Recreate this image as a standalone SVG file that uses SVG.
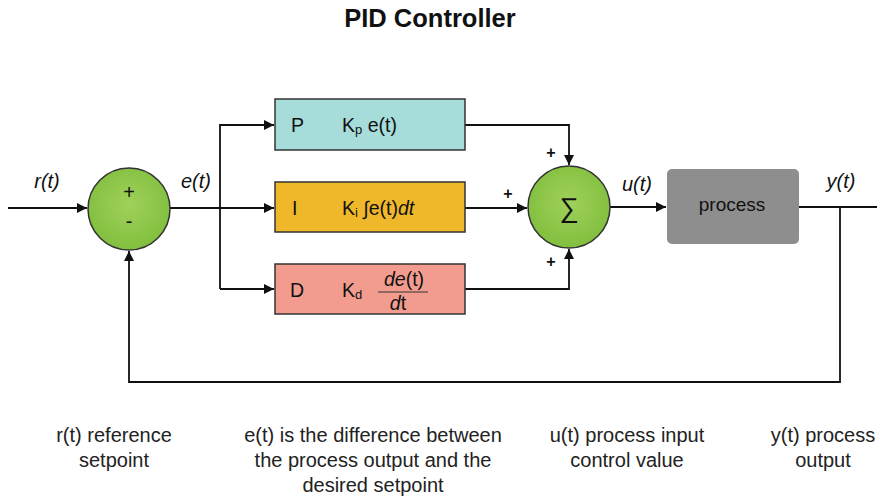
<svg xmlns="http://www.w3.org/2000/svg" width="877" height="498" viewBox="0 0 877 498">
<defs>
<marker id="arr" viewBox="0 0 10 10" refX="10" refY="5" markerWidth="10" markerHeight="10" markerUnits="userSpaceOnUse" orient="auto">
<path d="M0,0 L10,5 L0,10 z" fill="#111"/>
</marker>
<radialGradient id="g" cx="0.5" cy="0.45" r="0.6">
<stop offset="0" stop-color="#9fd15a"/>
<stop offset="1" stop-color="#7fbd3c"/>
</radialGradient>
</defs>
<style>
text{font-family:"Liberation Sans",Arial,sans-serif;fill:#111}
.lab{font-size:20px;font-style:italic}
.box{stroke:#333;stroke-width:1.5}
.bt{font-size:19.5px}
.note{font-size:20px;text-anchor:middle;fill:#222}
.c{stroke:#111;stroke-width:1.8;fill:none}
.pl{font-size:16px;font-weight:bold}
</style>
<rect width="877" height="498" fill="#fff"/>
<text x="430" y="27" text-anchor="middle" font-size="25.5" font-weight="bold">PID Controller</text>

<g id="connectors">
<path class="c" d="M8,208 H87" marker-end="url(#arr)"/>
<path class="c" d="M170,208 H274" marker-end="url(#arr)"/>
<path class="c" d="M220,289 V125 H274" marker-end="url(#arr)"/>
<path class="c" d="M220,289 H274" marker-end="url(#arr)"/>
<path class="c" d="M465,125 H569 V165" marker-end="url(#arr)"/>
<path class="c" d="M465,208 H527" marker-end="url(#arr)"/>
<path class="c" d="M465,289 H569 V249" marker-end="url(#arr)"/>
<path class="c" d="M610,207 H666" marker-end="url(#arr)"/>
<path class="c" d="M799,207 H877"/>
<path class="c" d="M840,207 V382 H129 V251" marker-end="url(#arr)"/>
</g>

<g id="labels">
<text class="lab" x="47" y="188" text-anchor="middle">r(t)</text>
<text class="lab" x="196" y="188" text-anchor="middle">e(t)</text>
<text class="lab" x="637" y="191" text-anchor="middle">u(t)</text>
<text class="lab" x="841" y="188" text-anchor="middle">y(t)</text>
<text class="pl" x="551" y="158" text-anchor="middle">+</text>
<text class="pl" x="508" y="199" text-anchor="middle">+</text>
<text class="pl" x="551" y="267" text-anchor="middle">+</text>
</g>

<g id="sum1">
<circle cx="129" cy="209" r="41" fill="url(#g)" stroke="#333" stroke-width="1.5"/>
<text x="129" y="199" text-anchor="middle" font-size="20">+</text>
<text x="129" y="228" text-anchor="middle" font-size="20">-</text>
</g>

<g id="P">
<rect class="box" x="275" y="99" width="190" height="51" fill="#a6dcda"/>
<text class="bt" x="291" y="132">P</text>
<text class="bt" x="342" y="132">K<tspan font-size="13" dy="2">p</tspan><tspan dy="-2"> e(t)</tspan></text>
</g>

<g id="I">
<rect class="box" x="275" y="182" width="190" height="50" fill="#efb82b"/>
<text class="bt" x="292" y="215">I</text>
<text class="bt" x="342" y="215">K<tspan font-size="13" dy="2">i</tspan><tspan dy="-2"> ∫e(t)</tspan><tspan font-style="italic">dt</tspan></text>
</g>

<g id="D">
<rect class="box" x="275" y="264" width="190" height="50" fill="#f29c8f"/>
<text class="bt" x="290" y="297">D</text>
<text class="bt" x="342" y="297">K<tspan font-size="13" dy="2">d</tspan></text>
<text class="bt" x="404" y="286" text-anchor="middle"><tspan font-style="italic">de</tspan>(t)</text>
<line x1="378" y1="292" x2="428" y2="292" stroke="#333" stroke-width="1.2"/>
<text class="bt" x="398" y="310" text-anchor="middle"><tspan font-style="italic">d</tspan>t</text>
</g>

<g id="sum2">
<circle cx="569" cy="207" r="41" fill="url(#g)" stroke="#333" stroke-width="1.5"/>
<text x="569" y="217" text-anchor="middle" font-size="27">∑</text>
</g>

<g id="process">
<rect x="667" y="169" width="132" height="75" rx="5" fill="#8e8e8e"/>
<text x="732" y="211" text-anchor="middle" font-size="19" fill="#222">process</text>
</g>

<g id="notes">
<text class="note" x="114" y="442">r(t) reference</text>
<text class="note" x="114" y="467">setpoint</text>
<text class="note" x="373" y="442">e(t) is the difference between</text>
<text class="note" x="373" y="467">the process output and the</text>
<text class="note" x="373" y="492">desired setpoint</text>
<text class="note" x="627" y="442">u(t) process input</text>
<text class="note" x="627" y="467">control value</text>
<text class="note" x="823" y="442">y(t) process</text>
<text class="note" x="823" y="467">output</text>
</g>
</svg>
